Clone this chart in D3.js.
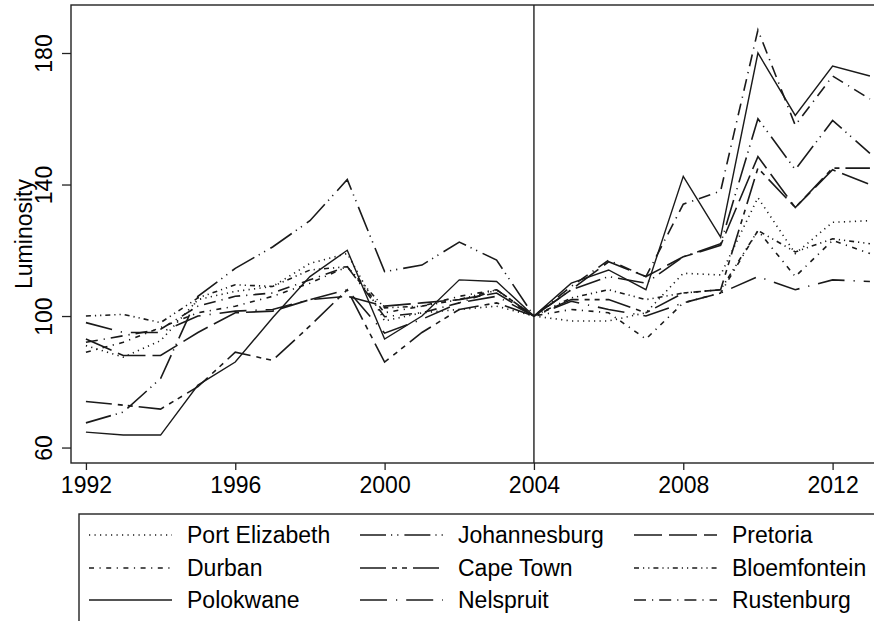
<!DOCTYPE html>
<html>
<head>
<meta charset="utf-8">
<script src="https://cdn.jsdelivr.net/npm/d3@7"></script>
<style>
  body { margin: 0; background: #fff; }
  svg { display: block; }
  text { font-family: "Liberation Sans", Arial, sans-serif; fill: #000; }
</style>
</head>
<body>
<div id="chart"></div>
<script>
// years on the x axis
var years = d3.range(1992, 2014);

// luminosity index, 2004 = 100
var portElizabeth = [91, 87.5, 92.5, 105, 107.5, 109, 116, 119, 98.5, 101, 102, 103, 100, 98.5, 98.5, 101, 113, 112.5, 136, 119, 128.5, 129];
var johannesburg  = [67.5, 70.8, 81, 106, 114.5, 121, 129, 141.5, 113.5, 115.5, 122.5, 117, 100, 108, 112, 110, 118, 122, 160, 144.5, 159.5, 149.5];
var pretoria      = [93, 88, 88, 95, 101, 101.5, 105, 106, 103, 104, 105, 107, 100, 108, 116.5, 112, 118, 121.5, 148.5, 133, 144.5, 140];
var durban        = [89, 92, 96.5, 101, 103, 106, 110, 115, 101, 103, 106, 108, 100, 102, 101, 93, 104, 107, 126, 112, 123, 119];
var capeTown      = [74, 72.9, 71.7, 78.5, 89, 86.5, 97, 108, 86, 95, 102, 104, 100, 105, 105, 101, 107, 108, 145, 133, 145, 145];
var bloemfontein  = [100, 100.5, 98, 105.5, 109.5, 109, 114, 115, 102.5, 103, 105, 108, 100, 105.5, 108, 105, 107, 108, 126, 119.5, 123.5, 122];
var polokwane     = [64.7, 63.8, 63.8, 79, 86, 99.5, 112, 120, 93, 100, 111, 110.5, 100, 110, 114, 108, 142.5, 124, 180, 161, 176, 173];
var nelspruit     = [98, 95, 95, 100, 101.5, 102, 105, 108, 94.8, 99, 104, 106, 100, 104.5, 102, 100, 104, 107, 112, 108, 111, 110.5];
var rustenburg    = [92, 94, 96, 103, 106, 107, 111, 115, 99.8, 101, 104, 108, 100, 109, 117, 112, 134, 138, 187, 158, 173, 166];

var cities = ["Port Elizabeth", "Johannesburg", "Pretoria",
              "Durban", "Cape Town", "Bloemfontein",
              "Polokwane", "Nelspruit", "Rustenburg"];
var values = [portElizabeth, johannesburg, pretoria,
              durban, capeTown, bloemfontein,
              polokwane, nelspruit, rustenburg];

var xTicks = [1992, 1996, 2000, 2004, 2008, 2012];
var yTicks = [60, 100, 140, 180];
var baseYear = 2004;

// line patterns, one per city (same order)
var dashes = ["1.2,4.3", "26,5,1.2,5,1.2,6", "28,7",
              "5,5.5,1.2,5.5", "26,6,5,5,5,6", "5,4,1.2,4,1.2,4",
              null, "27,9,1.2,9", "12,6,1.2,6"];

var W = 874, H = 621;
var plot = {left: 71, top: 5, bottom: 463, right: 877.4};
var fontSize = "23px";

var svg = d3.select("#chart").append("svg")
  .attr("width", W).attr("height", H);

var x = d3.scaleLinear().domain([1991.6, 2013.2]).range([plot.left, plot.right]);
var y = d3.scaleLinear().domain([55.3, 194.6]).range([plot.bottom, plot.top]);

// plot frame (right side runs off the picture)
svg.append("rect")
  .attr("x", plot.left).attr("y", plot.top)
  .attr("width", 900 - plot.left).attr("height", plot.bottom - plot.top)
  .attr("fill", "none").attr("stroke", "#222").attr("stroke-width", 1.4);

// x axis
var xa = svg.append("g")
  .attr("transform", "translate(0," + plot.bottom + ")")
  .call(d3.axisBottom(x).tickValues(xTicks).tickFormat(d3.format("d")).tickSize(7).tickPadding(7));
xa.select(".domain").remove();
xa.selectAll("line").attr("stroke", "#222").attr("stroke-width", 1.3);
xa.selectAll("text").style("font-size", fontSize).attr("fill", "#000");

// y axis, labels turned upright
var ya = svg.append("g")
  .attr("transform", "translate(" + plot.left + ",0)")
  .call(d3.axisLeft(y).tickValues(yTicks).tickSize(9));
ya.select(".domain").remove();
ya.selectAll("line").attr("stroke", "#222").attr("stroke-width", 1.3);
ya.selectAll("text")
  .attr("x", 0).attr("dy", 0)
  .attr("transform", "translate(-19,0) rotate(-90)")
  .style("text-anchor", "middle")
  .style("font-size", fontSize).attr("fill", "#000");

svg.append("text")
  .attr("transform", "translate(32," + ((plot.top + plot.bottom) / 2) + ") rotate(-90)")
  .attr("text-anchor", "middle")
  .style("font-size", fontSize)
  .text("Luminosity");

// reference line at the base year
svg.append("line")
  .attr("x1", x(baseYear)).attr("x2", x(baseYear))
  .attr("y1", plot.top).attr("y2", plot.bottom)
  .attr("stroke", "#222").attr("stroke-width", 1.4);

// the series
var line = d3.line()
  .x(function(d, i) { return x(years[i]); })
  .y(function(d) { return y(d); });

svg.selectAll(".city")
  .data(values)
  .enter().append("path")
    .attr("class", "city")
    .attr("d", line)
    .attr("fill", "none")
    .attr("stroke", "#1a1a1a")
    .attr("stroke-width", function(d, i) { return dashes[i] ? 1.6 : 1.4; })
    .attr("stroke-dasharray", function(d, i) { return dashes[i]; });

// legend box (runs off the bottom and right)
var lg = {left: 79, top: 514, rowY: [535, 568, 600], colX: [89, 360, 634], symLen: 83, textGap: 15};
svg.append("rect")
  .attr("x", lg.left).attr("y", lg.top)
  .attr("width", 900 - lg.left).attr("height", 200)
  .attr("fill", "none").attr("stroke", "#222").attr("stroke-width", 1.4);

var items = svg.selectAll(".leg")
  .data(cities)
  .enter().append("g")
    .attr("class", "leg")
    .attr("transform", function(d, i) {
      return "translate(" + lg.colX[i % 3] + "," + lg.rowY[Math.floor(i / 3)] + ")";
    });
items.append("line")
  .attr("x1", 0).attr("x2", lg.symLen)
  .attr("stroke", "#1a1a1a")
  .attr("stroke-width", function(d, i) { return dashes[i] ? 1.6 : 1.4; })
  .attr("stroke-dasharray", function(d, i) { return dashes[i]; });
items.append("text")
  .attr("x", lg.symLen + lg.textGap)
  .attr("dy", "0.35em")
  .style("font-size", fontSize)
  .text(function(d) { return d; });
</script>
</body>
</html>
